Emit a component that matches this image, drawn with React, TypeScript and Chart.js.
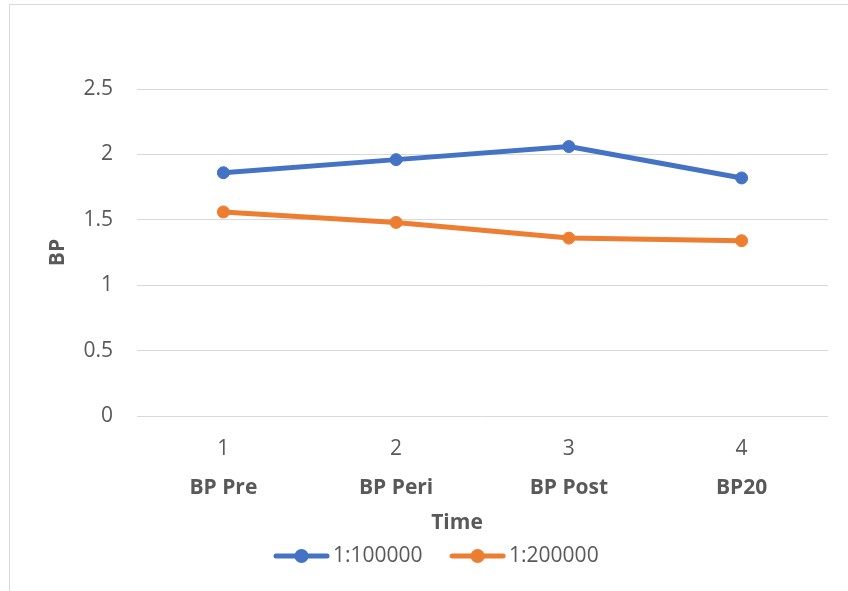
import React, { useEffect, useRef } from 'react';
import { Chart, registerables } from 'chart.js';

Chart.register(...registerables);

// ---- data ----
const tickNumbers = ['1', '2', '3', '4'];
const categoryNames = ['BP Pre', 'BP Peri', 'BP Post', 'BP20'];
const series1Label = '1:100000';
const series1Values = [1.86, 1.96, 2.06, 1.82];
const series2Label = '1:200000';
const series2Values = [1.56, 1.48, 1.36, 1.34];
const yMin = 0;
const yMax = 2.5;
const yStep = 0.5;
const yAxisTitle = 'BP';
const xAxisTitle = 'Time';
const caption = '(Figure 1)';

// ---- styles ----
const BLUE = '#4472C4';
const ORANGE = '#ED7D31';
const TEXT = '#595959';
const GRID = '#d9d9d9';
const FAMILY = '"Open Sans", sans-serif';
const FS = 21;

function legendSymbol(color: string): HTMLCanvasElement {
  const c = document.createElement('canvas');
  c.width = 57;
  c.height = 16;
  const ctx = c.getContext('2d')!;
  ctx.strokeStyle = color;
  ctx.lineWidth = 5;
  ctx.lineCap = 'round';
  ctx.beginPath();
  ctx.moveTo(3, 8);
  ctx.lineTo(54, 8);
  ctx.stroke();
  ctx.fillStyle = color;
  ctx.beginPath();
  ctx.arc(28.5, 8, 7, 0, Math.PI * 2);
  ctx.fill();
  return c;
}

const adjustPlugin = {
  id: 'adjustPlugin',
  afterLayout(chart: any) {
    const lg = chart.legend;
    if (lg && lg.lineWidths) {
      const pad = lg.options.labels.padding;
      const cur = (lg.left + pad + lg.right - lg.lineWidths[0]) / 2;
      const dx = 280.5 - cur;
      lg.left += dx;
      lg.right += dx;
      const dy = 556 - (lg.top + pad + FS / 2);
      lg.top += dy;
      lg.bottom = chart.height;
      lg.height = lg.bottom - lg.top;
    }
    const s = chart.scales.x2;
    if (s) {
      s.left -= 51;
    }
  },
};

export default function App() {
  const ref = useRef<HTMLCanvasElement | null>(null);

  useEffect(() => {
    if (!ref.current) return;
    const symbols = [legendSymbol(BLUE), legendSymbol(ORANGE)];
    const font = { family: FAMILY, size: FS };
    const bold = { family: FAMILY, size: FS, weight: 'bold' as const };
    const chart = new Chart(ref.current, {
      type: 'line',
      data: {
        labels: tickNumbers,
        datasets: [
          {
            label: series1Label,
            data: series1Values,
            borderColor: BLUE,
            backgroundColor: BLUE,
            pointBackgroundColor: BLUE,
            pointBorderColor: BLUE,
            borderWidth: 5,
            pointRadius: 6,
            pointBorderWidth: 1,
            borderCapStyle: 'round',
            borderJoinStyle: 'round',
            tension: 0,
            xAxisID: 'x',
            yAxisID: 'y',
          },
          {
            label: series2Label,
            data: series2Values,
            borderColor: ORANGE,
            backgroundColor: ORANGE,
            pointBackgroundColor: ORANGE,
            pointBorderColor: ORANGE,
            borderWidth: 5,
            pointRadius: 6,
            pointBorderWidth: 1,
            borderCapStyle: 'round',
            borderJoinStyle: 'round',
            tension: 0,
            xAxisID: 'x',
            yAxisID: 'y',
          },
        ],
      },
      options: {
        animation: false,
        responsive: false,
        maintainAspectRatio: false,
        layout: { padding: { top: 89, right: 20, bottom: 0, left: 0 } },
        scales: {
          x: {
            type: 'category',
            position: 'bottom',
            labels: tickNumbers,
            offset: true,
            grid: { display: false, drawTicks: false },
            border: { display: false },
            ticks: { color: TEXT, font, padding: 20, maxRotation: 0 },
            afterFit: (s: any) => {
              s.height = 50;
            },
          },
          x2: {
            type: 'category',
            position: 'bottom',
            labels: categoryNames,
            offset: true,
            grid: { display: false, drawTicks: false },
            border: { display: false },
            ticks: { color: TEXT, font: bold, padding: 9, maxRotation: 0 },
            title: {
              display: true,
              text: xAxisTitle,
              color: TEXT,
              font: bold,
              padding: { top: 0, bottom: 10 },
            },
            afterFit: (s: any) => {
              s.height = 80;
            },
          },
          y: {
            type: 'linear',
            min: yMin,
            max: yMax,
            ticks: {
              stepSize: yStep,
              color: TEXT,
              font,
              padding: 24,
              callback: (v: any) => String(Number(v)),
            },
            grid: { color: GRID, lineWidth: 1, drawTicks: false },
            border: { display: false },
            title: {
              display: true,
              text: yAxisTitle,
              color: TEXT,
              font: bold,
              padding: { top: 45, bottom: 0 },
            },
            afterFit: (s: any) => {
              s.width = 137;
            },
          },
        },
        plugins: {
          tooltip: { enabled: false },
          legend: {
            display: true,
            position: 'bottom',
            maxHeight: 45,
            labels: {
              usePointStyle: true,
              pointStyleWidth: 42,
              padding: 34,
              color: TEXT,
              font,
              generateLabels: (c: any) => {
                const items = (Chart as any).defaults.plugins.legend.labels.generateLabels(c);
                return items.map((it: any, i: number) => ({ ...it, pointStyle: symbols[i] }));
              },
            },
          },
        },
      } as any,
      plugins: [adjustPlugin],
    });
    return () => chart.destroy();
  }, []);

  return (
    <div
      style={{
        position: 'fixed',
        left: 0,
        top: 0,
        width: 848,
        height: 591,
        overflow: 'hidden',
        background: '#ffffff',
      }}
    >
      <div
        style={{
          position: 'absolute',
          left: 232,
          top: -34,
          fontFamily: '"Liberation Serif", "Times New Roman", serif',
          fontSize: 33,
          lineHeight: '33px',
          color: '#000',
          whiteSpace: 'nowrap',
        }}
      >
        {caption}
      </div>
      <div
        style={{
          position: 'absolute',
          left: 9,
          top: 4,
          width: 900,
          height: 700,
          border: '1px solid #d9d9d9',
          boxSizing: 'border-box',
        }}
      />
      <canvas
        ref={ref}
        width={848}
        height={591}
        style={{ position: 'absolute', left: 0, top: 0, width: 848, height: 591 }}
      />
    </div>
  );
}
